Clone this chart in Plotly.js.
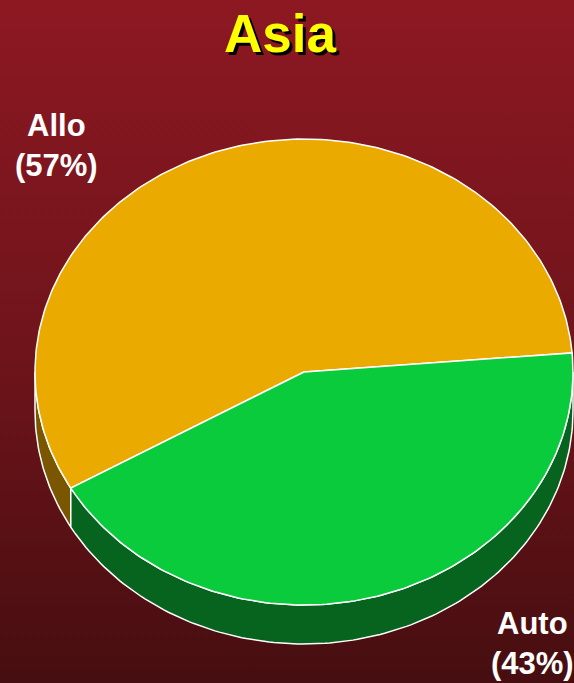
<!DOCTYPE html>
<html>
<head>
<meta charset="utf-8">
<script src="https://cdn.plot.ly/plotly-3.0.1.min.js"></script>
<style>
html, body { margin: 0; padding: 0; }
#chart {
  width: 574px; height: 683px;
  background: linear-gradient(to bottom, rgb(141,24,34) 0%, rgb(112,20,27) 50%, rgb(70,14,16) 100%);
}
</style>
</head>
<body>
<div id="chart"></div>
<script>
// ---- data ----
const categories = ['Allo', 'Auto'];
const values = [57, 43];
const chartTitle = 'Asia';

// ---- styles ----
const topColors = ['#EBAA00', '#0ACB3B'];
const sideColors = ['#7A5600', '#06641F'];

// ---- geometry (pixels in axis units) ----
const W = 574, H = 683;
const cx = 304, cy = 372, rx = 269, ry = 233, depth = 39;
const startDeg = 209.9; // slices go clockwise from here

const total = values.reduce((a, b) => a + b, 0);
const rad = d => d * Math.PI / 180;
function pt(t, dy) {
  return [cx + rx * Math.cos(rad(t)), cy - ry * Math.sin(rad(t)) + (dy || 0)];
}
function arc(t1, t2, dy) {
  const n = Math.max(2, Math.ceil(Math.abs(t2 - t1) / 1));
  const out = [];
  for (let i = 0; i <= n; i++) out.push(pt(t1 + (t2 - t1) * i / n, dy));
  return out;
}

const sideTraces = [], topTraces = [];
let a = startDeg;
values.forEach((v, i) => {
  const span = v / total * 360;
  const tStart = a, tEnd = a - span;
  a = tEnd;
  // top face
  const pts = [[cx, cy]].concat(arc(tStart, tEnd, 0)).concat([[cx, cy]]);
  topTraces.push({
    type: 'scatter', mode: 'lines', fill: 'toself',
    x: pts.map(p => p[0]), y: pts.map(p => p[1]),
    fillcolor: topColors[i], line: { color: '#ffffff', width: 1.5 },
    name: categories[i], hoverinfo: 'skip', showlegend: false
  });
  // visible front side wall (sin t < 0)
  const lo = tEnd, hi = tStart;
  for (let k = -2; k <= 2; k++) {
    const fLo = 180 + 360 * k, fHi = 360 + 360 * k;
    const s = Math.max(lo, fLo), e = Math.min(hi, fHi);
    if (e > s) {
      const upper = arc(s, e, 0);
      const lower = arc(e, s, depth);
      const poly = upper.concat(lower).concat([upper[0]]);
      sideTraces.push({
        type: 'scatter', mode: 'lines', fill: 'toself',
        x: poly.map(p => p[0]), y: poly.map(p => p[1]),
        fillcolor: sideColors[i], line: { color: '#ffffff', width: 1.5 },
        hoverinfo: 'skip', showlegend: false
      });
    }
  }
});

const labelPos = [[56, 145], [532, 643]];
const annotations = categories.map((c, i) => ({
  x: labelPos[i][0], y: labelPos[i][1], xref: 'x', yref: 'y',
  text: c + '<br>(' + values[i] + '%)', showarrow: false,
  xanchor: 'center', yanchor: 'middle', align: 'center',
  font: { family: 'Liberation Sans, Arial, sans-serif', size: 31, color: '#ffffff', weight: 'bold' }
}));

const layout = {
  width: W, height: H,
  margin: { l: 0, r: 0, t: 0, b: 0 },
  paper_bgcolor: 'rgba(0,0,0,0)', plot_bgcolor: 'rgba(0,0,0,0)',
  xaxis: { range: [0, W], visible: false, fixedrange: true },
  yaxis: { range: [H, 0], visible: false, fixedrange: true },
  title: {
    text: chartTitle, x: 280 / W, xanchor: 'center',
    yref: 'container', y: 1 - 33 / H, yanchor: 'middle',
    font: { family: 'Liberation Sans, Arial, sans-serif', size: 53, color: '#ffff00', weight: 'bold', shadow: '3px 3px 0px #000000' }
  },
  annotations: annotations,
  showlegend: false
};

Plotly.newPlot('chart', sideTraces.concat(topTraces), layout, { displayModeBar: false, staticPlot: true });
</script>
</body>
</html>
